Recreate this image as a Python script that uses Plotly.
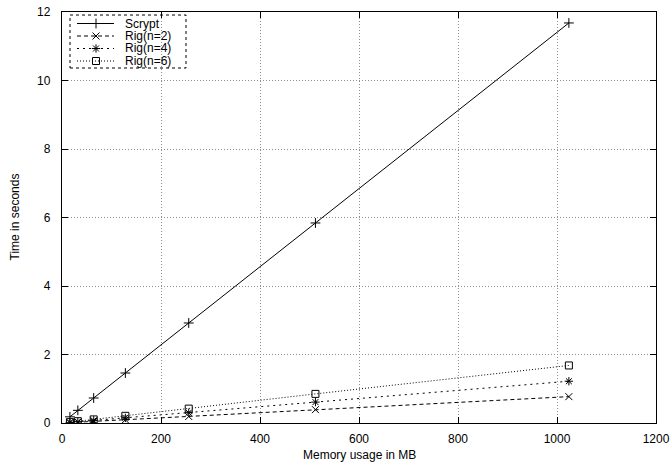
import plotly.graph_objects as go

# ---- data ----
memory_mb = [16, 32, 64, 128, 256, 512, 1024]
scrypt = [0.18, 0.37, 0.73, 1.46, 2.92, 5.84, 11.68]
rig_n2 = [0.012, 0.024, 0.048, 0.095, 0.19, 0.39, 0.77]
rig_n4 = [0.019, 0.038, 0.076, 0.15, 0.30, 0.61, 1.22]
rig_n6 = [0.026, 0.053, 0.105, 0.21, 0.42, 0.85, 1.68]
series_names = ["Scrypt", "Rig(n=2)", "Rig(n=4)", "Rig(n=6)"]
x_ticks = [0, 200, 400, 600, 800, 1000, 1200]
y_ticks = [0, 2, 4, 6, 8, 10, 12]

series_values = [scrypt, rig_n2, rig_n4, rig_n6]
dashes = ["solid", "4px,3px", "2px,4px", "1px,2px"]
symbols = ["cross-thin-open", "x-thin-open", "asterisk-open", "square-open"]
msizes = [7, 7, 7, 7]

W, H = 670, 464
L, R, T, B = 62, 14, 12, 41
PW, PH = W - L - R, H - T - B
FONT = "Liberation Sans, Arial, Helvetica, sans-serif"

def px2x(px):
    return (px - L) / PW

def py2y(py):
    return (H - B - py) / PH

fig = go.Figure()
for name, vals, dash, sym, ms in zip(series_names, series_values, dashes, symbols, msizes):
    fig.add_trace(go.Scatter(
        x=memory_mb, y=vals, name=name, mode="lines+markers",
        line=dict(color="black", width=1, dash=dash),
        marker=dict(symbol=sym, size=ms, color="black",
                    line=dict(color="black", width=1)),
        showlegend=False,
    ))

# ---- manual gnuplot-style key ----
row_y = [23.5, 36, 48.5, 61]
for name, dash, sym, ms, ry in zip(series_names, dashes, symbols, msizes, row_y):
    yy = py2y(ry)
    fig.add_trace(go.Scatter(
        x=[px2x(77), px2x(114)], y=[yy, yy], mode="lines",
        line=dict(color="black", width=1, dash=dash),
        xaxis="x2", yaxis="y2", showlegend=False, hoverinfo="skip"))
    fig.add_trace(go.Scatter(
        x=[px2x(96)], y=[yy], mode="markers",
        marker=dict(symbol=sym, size=ms, color="black",
                    line=dict(color="black", width=1)),
        xaxis="x2", yaxis="y2", showlegend=False, hoverinfo="skip"))
    fig.add_annotation(x=px2x(123), y=yy, xref="paper", yref="paper",
                       text=name, showarrow=False, xanchor="left",
                       yanchor="middle", font=dict(size=12, color="black", family=FONT))

fig.add_shape(type="rect", xref="paper", yref="paper",
              x0=px2x(70), x1=px2x(186), y0=py2y(68), y1=py2y(15),
              line=dict(color="black", width=1, dash="dot"),
              fillcolor="white", layer="between")

axis_common = dict(
    showline=True, linecolor="black", linewidth=1.3, mirror="allticks",
    ticks="inside", ticklen=6, tickcolor="black", tickwidth=1,
    showgrid=True, gridcolor="#8f8f8f", griddash="1px,2px", gridwidth=1,
    zeroline=False, automargin=False,
    tickfont=dict(size=12, color="black", family=FONT),
)

fig.update_layout(
    width=W, height=H,
    margin=dict(l=L, r=R, t=T, b=B, pad=0, autoexpand=False),
    paper_bgcolor="white", plot_bgcolor="white",
    font=dict(family=FONT, size=12, color="black"),
    showlegend=False,
    xaxis=dict(range=[0, 1200], tickvals=x_ticks, ticklabelstandoff=4, **axis_common),
    yaxis=dict(range=[0, 12], tickvals=y_ticks, ticklabelstandoff=8, **axis_common),
    xaxis2=dict(range=[0, 1], overlaying="x", visible=False, fixedrange=True, automargin=False),
    yaxis2=dict(range=[0, 1], overlaying="y", visible=False, fixedrange=True, automargin=False),
)

fig.add_annotation(x=0.5, y=0, xref="paper", yref="paper", yshift=-32,
                   text="Memory usage in MB", showarrow=False,
                   xanchor="center", yanchor="middle",
                   font=dict(size=12, color="black", family=FONT))
fig.add_annotation(x=0, y=0.5, xref="paper", yref="paper", xshift=-48,
                   text="Time in seconds", showarrow=False, textangle=-90,
                   xanchor="center", yanchor="middle",
                   font=dict(size=12, color="black", family=FONT))

fig.write_html("out.html",
               config={"displayModeBar": False},
               post_script="document.body.style.margin='0';document.body.style.padding='0';")
